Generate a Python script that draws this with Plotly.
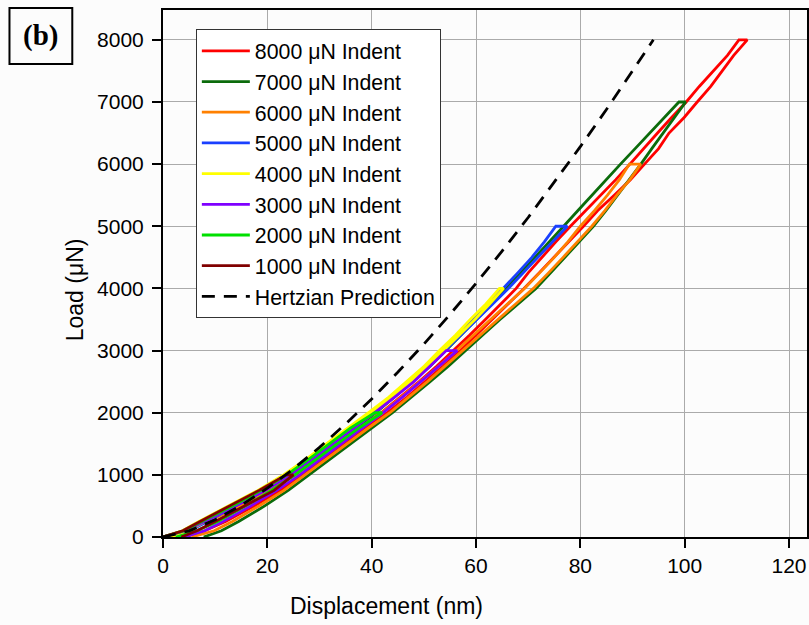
import plotly.graph_objects as go

# Load grid (uN) shared by all indents
LOADS = [0, 100, 250, 500, 750, 1000, 1250, 1500, 1750, 2000, 2250, 2500, 2750, 3000,
         3250, 3500, 3750, 4000, 4250, 4500, 4750, 5000, 5250, 5500, 5750, 6000,
         6250, 6500, 6750, 7000, 7250, 7500, 7750, 8000]

# Displacement (nm) on loading / unloading branches, indexed by LOADS
RED_LOAD = [0, 4.5, 8.5, 14.6, 20.4, 25.3, 29.4, 33.3, 37.6, 41.8, 45.5, 49.1, 52.5, 55.7, 58.8, 61.8,
            64.8, 67.7, 70.0, 72.6, 75.3, 78.1, 81.0, 84.0, 86.8, 89.5, 92.1, 94.8, 97.5, 100.3,
            102.8, 105.5, 108.2, 110.4]
RED_UNLOAD = [4.2, 8.0, 12.0, 17.5, 22.5, 26.6, 30.6, 34.6, 38.7, 43.0, 46.8, 50.3, 53.7, 57.0, 60.1,
              63.2, 66.2, 69.2, 72.1, 75.0, 77.8, 80.6, 83.3, 86.5, 89.6, 92.3, 95.0, 97.0, 99.9,
              102.4, 105.0, 107.2, 109.4, 112.0]
DKGREEN_LOAD = [0, 4.2, 8.2, 14.3, 20.0, 24.8, 28.9, 32.9, 37.0, 40.8, 44.3, 47.8, 51.2, 54.2, 57.2,
                60.1, 63.0, 65.8, 68.6, 71.3, 74.0, 76.8, 79.5, 82.2, 85.0, 87.7, 90.5, 93.3, 96.1, 98.9]
DKGREEN_UNLOAD = [7.8, 11.2, 14.5, 19.5, 24.0, 28.0, 32.0, 36.0, 40.0, 44.0, 47.6, 51.2, 54.7, 58.1,
                  61.3, 64.6, 68.0, 71.5, 74.3, 77.0, 79.8, 82.5, 84.9, 87.2, 89.4, 91.6, 93.7, 95.8,
                  98.0, 100.2]
ORANGE_LOAD = [0, 4.4, 8.6, 14.8, 20.5, 25.2, 29.4, 33.3, 37.6, 42.0, 45.7, 49.4, 52.9, 56.3, 59.5,
               62.8, 66.0, 69.3, 72.2, 75.0, 77.6, 80.0, 82.7, 85.2, 87.5, 89.4]
ORANGE_UNLOAD = [5.5, 9.8, 13.3, 18.4, 23.2, 27.3, 31.3, 35.3, 39.3, 43.5, 47.1, 50.7, 54.2, 57.6,
                 60.9, 64.2, 67.6, 71.0, 73.9, 76.7, 79.5, 82.2, 84.7, 87.0, 89.5, 91.6]
BLUE_LOAD = [0, 3.8, 7.1, 12.9, 18.4, 23.3, 27.6, 31.5, 35.7, 39.8, 43.5, 47.0, 50.3, 53.4, 56.4,
             59.4, 62.3, 65.2, 68.0, 70.7, 73.1, 75.3]
BLUE_UNLOAD = [2.0, 5.2, 8.4, 14.0, 19.4, 24.2, 28.5, 32.3, 36.5, 40.6, 44.3, 47.7, 51.0, 54.1, 57.1,
               60.2, 63.2, 66.2, 69.0, 71.9, 74.7, 77.5]
YELLOW_LOAD = [0, 3.7, 6.9, 12.7, 18.2, 23.1, 27.4, 31.3, 35.4, 39.4, 43.3, 46.6, 50.1, 53.0, 56.1,
               58.9, 61.9, 64.5]
YELLOW_UNLOAD = [1.5, 4.8, 8.0, 13.6, 19.0, 23.9, 28.2, 32.0, 36.1, 40.2, 44.0, 47.4, 50.7, 53.8,
                 56.8, 59.8, 62.6, 65.3]
PURPLE_LOAD = [0, 4.3, 8.0, 14.0, 19.7, 24.4, 28.6, 32.6, 36.7, 40.6, 44.4, 48.1, 51.3, 54.3]
PURPLE_UNLOAD = [4.0, 8.0, 11.5, 16.8, 21.8, 26.2, 30.3, 34.2, 38.2, 42.2, 45.9, 49.6, 52.9, 56.4]
GREEN_LOAD = [0, 4.0, 7.4, 13.3, 18.8, 23.7, 27.9, 31.8, 35.9, 40.6]
GREEN_UNLOAD = [2.5, 6.5, 10.5, 15.8, 20.8, 25.3, 29.4, 33.4, 37.5, 42.0]
DKRED_LOAD = [0, 3.8, 7.1, 12.9, 18.4, 23.6]
DKRED_UNLOAD = [3.5, 6.5, 10.0, 15.8, 21.3, 25.0]

# Hertzian prediction
HZ_DISP = [0, 5, 10, 15, 20, 25, 30, 35, 40, 45, 50, 55, 60, 65, 70, 75, 80, 85, 90, 94]
HZ_LOAD = [0, 98, 278, 510, 785, 1097, 1442, 1818, 2221, 2650, 3103, 3581, 4080, 4600, 5141,
           5702, 6281, 6879, 7495, 8000]

SERIES = [
    ("8000 \u03bcN Indent", "#ff0000", RED_LOAD, RED_UNLOAD),
    ("7000 \u03bcN Indent", "#0b6b0b", DKGREEN_LOAD, DKGREEN_UNLOAD),
    ("6000 \u03bcN Indent", "#ff8000", ORANGE_LOAD, ORANGE_UNLOAD),
    ("5000 \u03bcN Indent", "#1a40ff", BLUE_LOAD, BLUE_UNLOAD),
    ("4000 \u03bcN Indent", "#ffff00", YELLOW_LOAD, YELLOW_UNLOAD),
    ("3000 \u03bcN Indent", "#7f00ff", PURPLE_LOAD, PURPLE_UNLOAD),
    ("2000 \u03bcN Indent", "#00e000", GREEN_LOAD, GREEN_UNLOAD),
    ("1000 \u03bcN Indent", "#800000", DKRED_LOAD, DKRED_UNLOAD),
]

fig = go.Figure()
for name, color, ld, ul in SERIES:
    n = len(ld)
    xs = ld + ul[::-1]
    ys = LOADS[:n] + LOADS[:n][::-1]
    fig.add_trace(go.Scatter(x=xs, y=ys, mode="lines", name=name,
                             line=dict(color=color, width=2.8)))

fig.add_trace(go.Scatter(x=HZ_DISP, y=HZ_LOAD, mode="lines", name="Hertzian Prediction",
                         line=dict(color="black", width=2.8, dash="13px,9px")))

font_main = "Liberation Sans, Arial, sans-serif"
fig.update_layout(
    width=809, height=625,
    margin=dict(l=163, r=0, t=10, b=88),
    paper_bgcolor="#fcfcfc", plot_bgcolor="#fcfcfc",
    font=dict(family=font_main, size=20, color="black"),
    showlegend=True,
    legend=dict(x=0.051, y=0.963, xanchor="left", yanchor="top",
                bgcolor="white", bordercolor="#333", borderwidth=1,
                itemwidth=48,
                font=dict(size=21.3, family=font_main), tracegroupgap=0),
    xaxis=dict(range=[0, 123.45], dtick=20, tick0=0, showline=True, linecolor="black",
               linewidth=2, mirror=True, ticks="outside", ticklen=9, tickwidth=2,
               tickcolor="black", showgrid=True, gridcolor="#aaaaaa", gridwidth=1,
               zeroline=False, tickfont=dict(size=21)),
    yaxis=dict(range=[0, 8480], dtick=1000, tick0=0, showline=True, linecolor="black",
               linewidth=2, mirror=True, ticks="outside", ticklen=9, tickwidth=2,
               tickcolor="black", showgrid=True, gridcolor="#aaaaaa", gridwidth=1,
               zeroline=False, tickfont=dict(size=21), ticklabelstandoff=4),
    annotations=[
        dict(text="Displacement (nm)", xref="paper", yref="paper",
             x=(387 - 163) / 646, y=-(606 - 537) / 527, xanchor="center", yanchor="middle",
             showarrow=False, font=dict(size=23)),
        dict(text="Load (\u03bcN)", xref="paper", yref="paper",
             x=(75 - 163) / 646, y=(537 - 290) / 527, xanchor="center", yanchor="middle",
             showarrow=False, textangle=-90, font=dict(size=23)),
        dict(text="<b>(b)</b>", xref="paper", yref="paper",
             x=(40.5 - 163) / 646, y=(537 - 36) / 527, xanchor="center", yanchor="middle",
             showarrow=False, font=dict(size=29, family="Liberation Serif, Times New Roman, serif")),
    ],
    shapes=[
        dict(type="rect", xref="paper", yref="paper",
             x0=(9 - 163) / 646, x1=(72 - 163) / 646,
             y0=(537 - 64) / 527, y1=(537 - 8) / 527,
             line=dict(color="black", width=2), fillcolor="rgba(0,0,0,0)"),
    ],
)

fig.write_html("out.html")
